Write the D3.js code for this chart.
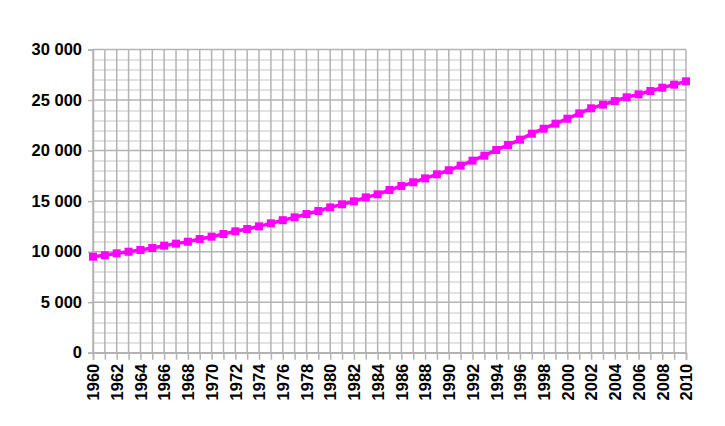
<!DOCTYPE html>
<html>
<head>
<meta charset="utf-8">
<script src="https://cdn.jsdelivr.net/npm/d3@7/dist/d3.min.js"></script>
<style>
  body { margin: 0; background: #fff; }
  svg { display: block; }
</style>
</head>
<body>
<div id="chart"></div>
<script>
// Data
const years = d3.range(1960, 2011);
const population = [
  9500, 9640, 9830, 9990, 10160, 10360, 10590, 10790, 10980, 11250,
  11480, 11740, 12010, 12240, 12500, 12800, 13110, 13390, 13720, 14020,
  14380, 14680, 14980, 15370, 15670, 16100, 16490, 16860, 17250, 17650,
  18050, 18510, 19000, 19490, 20060, 20550, 21080, 21670, 22160, 22660,
  23150, 23680, 24180, 24540, 24900, 25270, 25560, 25890, 26220, 26520,
  26850
];
const yTicks = [0, 5000, 10000, 15000, 20000, 25000, 30000];
const xLabelYears = d3.range(1960, 2011, 2);

const data = years.map((y, i) => ({ year: y, value: population[i] }));

// Dimensions
const W = 725, H = 426;
const margin = { top: 49.5, right: 39, bottom: 73.3, left: 93 };
const width = W - margin.left - margin.right;
const height = H - margin.top - margin.bottom;
const fontSize = "16.5px";

const svg = d3.select("#chart").append("svg")
    .attr("width", W)
    .attr("height", H);

const g = svg.append("g")
    .attr("transform", `translate(${margin.left},${margin.top})`);

const x = d3.scaleLinear().domain([1960, 2010]).range([0, width]);
const y = d3.scaleLinear().domain([0, 30000]).range([height, 0]);

// Minor horizontal grid (every 1000)
g.append("g")
    .selectAll("line")
    .data(d3.range(1000, 30000, 1000).filter(v => v % 5000 !== 0))
    .enter().append("line")
    .attr("x1", 0).attr("x2", width)
    .attr("y1", d => Math.round(y(d)) + 0.5).attr("y2", d => Math.round(y(d)) + 0.5)
    .attr("stroke", "#d9d9d9").attr("stroke-width", 1.5);

// Vertical grid (every year)
g.append("g")
    .selectAll("line")
    .data(years)
    .enter().append("line")
    .attr("x1", d => x(d)).attr("x2", d => x(d))
    .attr("y1", 0).attr("y2", height)
    .attr("stroke", "#b3b3b3").attr("stroke-width", 1.5);

// Major horizontal grid
g.append("g")
    .selectAll("line")
    .data(yTicks)
    .enter().append("line")
    .attr("x1", 0).attr("x2", width)
    .attr("y1", d => y(d)).attr("y2", d => y(d))
    .attr("stroke", "#b3b3b3").attr("stroke-width", 1.5);

// Y axis
const yAxis = g.append("g")
    .call(d3.axisLeft(y).tickValues(yTicks).tickSize(5).tickPadding(6)
        .tickFormat(d => d3.format(",")(d).replace(/,/g, " ")));
yAxis.select(".domain").attr("stroke", "#b3b3b3").attr("stroke-width", 1.5);
yAxis.selectAll(".tick line").attr("stroke", "#b3b3b3").attr("stroke-width", 1.5);
yAxis.selectAll("text")
    .attr("fill", "#000")
    .style("font-family", "'Liberation Sans', Arial, sans-serif")
    .style("font-weight", "bold")
    .style("font-size", fontSize);

// X axis
const xAxis = g.append("g")
    .attr("transform", `translate(0,${height})`)
    .call(d3.axisBottom(x).tickValues(years).tickSize(7)
        .tickFormat(d => xLabelYears.includes(d) ? d : ""));
xAxis.select(".domain").attr("stroke", "#b3b3b3").attr("stroke-width", 1.5);
xAxis.selectAll(".tick line").attr("stroke", "#b3b3b3").attr("stroke-width", 1.5);
xAxis.selectAll("text")
    .attr("fill", "#000")
    .attr("transform", "rotate(-90)")
    .attr("x", -11)
    .attr("y", 0)
    .attr("dy", "0.35em")
    .attr("text-anchor", "end")
    .style("font-family", "'Liberation Sans', Arial, sans-serif")
    .style("font-weight", "bold")
    .style("font-size", fontSize);

// Line
const line = d3.line()
    .x(d => x(d.year))
    .y(d => y(d.value));

g.append("path")
    .datum(data)
    .attr("fill", "none")
    .attr("stroke", "#ff00ff")
    .attr("stroke-width", 3.5)
    .attr("d", line);

// Square markers
const ms = 8;
g.selectAll(".marker")
    .data(data)
    .enter().append("rect")
    .attr("class", "marker")
    .attr("x", d => x(d.year) - ms / 2)
    .attr("y", d => y(d.value) - ms / 2)
    .attr("width", ms)
    .attr("height", ms)
    .attr("fill", "#ff00ff");
</script>
</body>
</html>
